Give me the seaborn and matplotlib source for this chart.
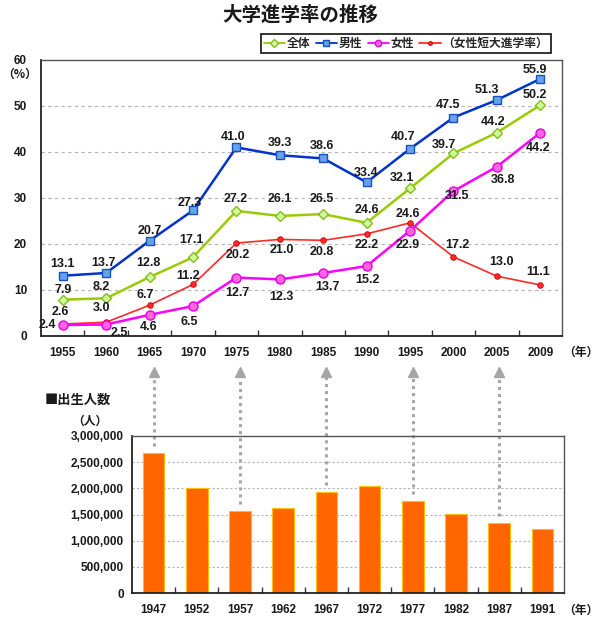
import numpy as np
import pandas as pd
import matplotlib
matplotlib.use("Agg")
import matplotlib.pyplot as plt
import seaborn as sns
from matplotlib.ticker import FuncFormatter, FixedLocator

# ---------------- data ----------------
years = ["1955", "1960", "1965", "1970", "1975", "1980", "1985", "1990", "1995", "2000", "2005", "2009"]
total = [7.9, 8.2, 12.8, 17.1, 27.2, 26.1, 26.5, 24.6, 32.1, 39.7, 44.2, 50.2]
male = [13.1, 13.7, 20.7, 27.3, 41.0, 39.3, 38.6, 33.4, 40.7, 47.5, 51.3, 55.9]
female = [2.4, 2.5, 4.6, 6.5, 12.7, 12.3, 13.7, 15.2, 22.9, 31.5, 36.8, 44.2]
junior = [2.6, 3.0, 6.7, 11.2, 20.2, 21.0, 20.8, 22.2, 24.6, 17.2, 13.0, 11.1]
series_names = ["全体", "男性", "女性", "（女性短大進学率）"]

birth_years = ["1947", "1952", "1957", "1962", "1967", "1972", "1977", "1982", "1987", "1991"]
births = [2678792, 2005162, 1566713, 1618616, 1935647, 2038682, 1755100, 1515392, 1346658, 1223245]
arrow_years = ["1947", "1957", "1967", "1977", "1987"]

title = "大学進学率の推移"

# ---------------- style ----------------
sns.set_theme(style="white")
plt.rcParams["font.family"] = ["Liberation Sans", "Noto Sans CJK JP"]
plt.rcParams["font.weight"] = "bold"
TXT = "#1a1a1a"

fig = plt.figure(figsize=(6.0, 6.22), dpi=100)
W, H = 600.0, 622.0
ax1 = fig.add_axes([41 / W, 1 - 336 / H, 521 / W, 276 / H])
ax2 = fig.add_axes([132 / W, 1 - 593 / H, 432 / W, 157 / H])

df = pd.DataFrame({"idx": np.arange(len(years)), "全体": total, "男性": male,
                   "女性": female, "（女性短大進学率）": junior})

styles = {
    "（女性短大進学率）": dict(color="#ff2a2a", marker="o", markersize=4, markerfacecolor="#ff2a2a",
                         markeredgecolor="#cc0000", markeredgewidth=0.6, lw=1.2, zorder=3),
    "女性": dict(color="#ff00ff", marker="o", markersize=6.5, markerfacecolor="#ff66dd",
               markeredgecolor="#e600e6", markeredgewidth=1.0, lw=1.8, zorder=4),
    "全体": dict(color="#99cc00", marker="D", markersize=5.5, markerfacecolor="#ccff99",
               markeredgecolor="#88bb22", markeredgewidth=1.0, lw=1.8, zorder=5),
    "男性": dict(color="#0033cc", marker="s", markersize=5.5, markerfacecolor="#66a3e8",
               markeredgecolor="#1a4fcc", markeredgewidth=1.0, lw=1.8, zorder=6),
}
for name in ["（女性短大進学率）", "女性", "全体", "男性"]:
    st = styles[name]
    sns.lineplot(x=df["idx"], y=df[name], ax=ax1, label=name, legend=False, **st)

# label offsets in pixels (dx, dy; dy positive = up)
offs = {
    "男性": [(0, 12), (-3, 10), (0, 10), (-3, 7), (-3, 10), (0, 12), (-1, 12), (-1, 9),
           (-7, 12), (-5, 13), (-10, 10), (-5, 9)],
    "全体": [(0, 10), (-5, 11), (-1, 14), (-2, 17), (-1, 12), (0, 17), (-1, 15), (0, 13),
           (-8, 10), (-10, 8), (-4, 11), (-5, 10)],
    "女性": [(-15, 0), (13, -8), (-1, -12), (-4, -16), (1, -15), (2, -18), (4, -14), (1, -14),
           (-2, -14), (4, -5), (6, -13), (-2, -15)],
    "（女性短大進学率）": [(-2, 12), (-5, 14), (-4, 10), (-5, 8), (1, -12), (2, -11), (-1, -12),
                  (0, -11), (-2, 9), (4, 12), (5, 14), (-2, 13)],
}
for name, vals in zip(series_names, [total, male, female, junior]):
    for i, v in enumerate(vals):
        dx, dy = offs[name][i]
        ax1.annotate(f"{v:.1f}", xy=(i, v), xytext=(dx * 0.72, dy * 0.72),
                     textcoords="offset points", ha="center", va="center",
                     fontsize=9, fontweight="bold", color=TXT, zorder=10)

ax1.set_xlim(-0.5, len(years) - 0.5)
ax1.set_ylim(0, 60)
ax1.set_xticks(range(len(years)))
ax1.set_xticklabels(years)
ax1.xaxis.set_minor_locator(FixedLocator(np.arange(0.5, len(years) - 1, 1)))
ax1.set_yticks(range(0, 61, 10))
ax1.tick_params(axis="x", which="major", length=0, pad=8, labelsize=8.5, labelcolor=TXT)
ax1.tick_params(axis="x", which="minor", length=4, direction="in", width=1, color="#333", bottom=True)
ax1.tick_params(axis="y", length=0, pad=10, labelsize=8.5, labelcolor=TXT)
for t in ax1.get_xticklabels() + ax1.get_yticklabels():
    t.set_fontweight("bold")
ax1.set_xlabel("")
ax1.set_ylabel("")
for y in range(10, 60, 10):
    ax1.axhline(y, color="#b3b3b3", lw=0.8, ls=(0, (3, 3)), zorder=0)
for s in ["left", "bottom"]:
    ax1.spines[s].set_color("#222222")
    ax1.spines[s].set_linewidth(1.3)
for s in ["top", "right"]:
    ax1.spines[s].set_color("#555555")
    ax1.spines[s].set_linewidth(1.0)

# legend
handles, labels = ax1.get_legend_handles_labels()
order = [labels.index(n) for n in series_names]
leg = fig.legend([handles[k] for k in order], [labels[k] for k in order],
                 loc="upper right", bbox_to_anchor=(557 / W, 1 - 28 / H), ncol=4,
                 frameon=True, fancybox=False, edgecolor="#111111", framealpha=1,
                 prop={"family": ["Noto Sans CJK JP"], "weight": "bold", "size": 8.5},
                 handlelength=1.8, handletextpad=0.15, columnspacing=0.45,
                 borderpad=0.25, markerscale=0.7)
leg.get_frame().set_linewidth(1.2)
for h in leg.legend_handles:
    h.set_linewidth(1.3)

fig.text(300 / W, 1 - 15 / H, title, ha="center", va="center", fontsize=14,
         fontweight="bold", family=["Noto Sans CJK JP"], color=TXT)
fig.text(20 / W, 1 - 74 / H, "（%）", ha="center", va="center", fontsize=8.5,
         fontweight="bold", family=["Noto Sans CJK JP"], color=TXT)
fig.text(581 / W, 1 - 352 / H, "（年）", ha="center", va="center", fontsize=8.5,
         fontweight="bold", family=["Noto Sans CJK JP"], color=TXT)

# ---------------- bottom chart ----------------
bdf = pd.DataFrame({"year": birth_years, "births": births})
sns.barplot(data=bdf, x="year", y="births", ax=ax2, color="#ff6600", saturation=1,
            width=0.5, edgecolor="#ffc000", linewidth=0.8, zorder=2)
ax2.set_xlim(-0.5, len(birth_years) - 0.5)
ax2.set_ylim(0, 3000000)
ax2.set_yticks(range(0, 3000001, 500000))
ax2.yaxis.set_major_formatter(FuncFormatter(lambda v, p: f"{int(v):,}"))
ax2.xaxis.set_minor_locator(FixedLocator(np.arange(0.5, len(birth_years) - 1, 1)))
ax2.tick_params(axis="x", which="major", length=0, pad=8, labelsize=8.5, labelcolor=TXT)
ax2.tick_params(axis="x", which="minor", length=4, direction="in", width=1, color="#333", bottom=True)
ax2.tick_params(axis="y", length=0, pad=6, labelsize=8.5, labelcolor=TXT)
for t in ax2.get_xticklabels() + ax2.get_yticklabels():
    t.set_fontweight("bold")
ax2.set_xlabel("")
ax2.set_ylabel("")
for y in range(500000, 3000000, 500000):
    ax2.axhline(y, color="#b3b3b3", lw=0.8, ls=(0, (2, 2)), zorder=0)
for s in ["left", "bottom"]:
    ax2.spines[s].set_color("#222222")
    ax2.spines[s].set_linewidth(1.3)
for s in ["top", "right"]:
    ax2.spines[s].set_color("#555555")
    ax2.spines[s].set_linewidth(1.0)

# dotted arrows linking birth cohorts to the college-entry years
for yr in arrow_years:
    i = birth_years.index(yr)
    v = births[i]
    ax2.plot([i, i], [v + 130000, 4.12e6], color="#a6a6a6", lw=2.2,
             ls=(0, (1, 1.3)), clip_on=False, zorder=1)
    ax2.plot([i], [4.22e6], marker="^", markersize=7.5, color="#a6a6a6",
             markeredgecolor="#a6a6a6", clip_on=False, zorder=1)

fig.text(45 / W, 1 - 400 / H, "■出生人数", ha="left", va="center", fontsize=9.5,
         fontweight="bold", family=["Noto Sans CJK JP"], color=TXT)
fig.text(90 / W, 1 - 421 / H, "（人）", ha="center", va="center", fontsize=8.5,
         fontweight="bold", family=["Noto Sans CJK JP"], color=TXT)
fig.text(581 / W, 1 - 610 / H, "（年）", ha="center", va="center", fontsize=8.5,
         fontweight="bold", family=["Noto Sans CJK JP"], color=TXT)

fig.savefig("out.png", dpi=100, facecolor="white")
